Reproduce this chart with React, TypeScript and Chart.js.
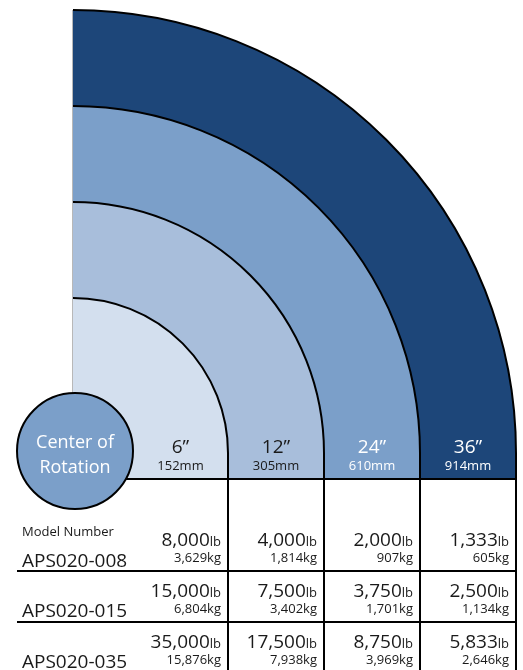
import React, { useEffect, useRef } from 'react';
import { Chart, registerables } from 'chart.js';

Chart.register(...registerables);

// ---- data ----
const reachInches = ['6”', '12”', '24”', '36”'];
const reachMm = ['152mm', '305mm', '610mm', '914mm'];
const modelNumbers = ['APS020-008', 'APS020-015', 'APS020-035'];
const capacityLb008 = [8000, 4000, 2000, 1333];
const capacityKg008 = [3629, 1814, 907, 605];
const capacityLb015 = [15000, 7500, 3750, 2500];
const capacityKg015 = [6804, 3402, 1701, 1134];
const capacityLb035 = [35000, 17500, 8750, 5833];
const capacityKg035 = [15876, 7938, 3969, 2646];

const lbRows = [capacityLb008, capacityLb015, capacityLb035];
const kgRows = [capacityKg008, capacityKg015, capacityKg035];

// ---- styling (not data) ----
const ringColors = ['#d3dfee', '#a8bedb', '#7b9fc9', '#1d4679'];
const ringWeights = [155, 96, 96, 96];
const headerInk = ['#1a1a1a', '#1a1a1a', '#ffffff', '#ffffff'];
const FONT = '"Open Sans", "Noto Sans", sans-serif';

const fmt = (v: number) => v.toLocaleString('en-US');

const loadPlugin = {
  id: 'loadChart',
  afterDatasetsDraw(chart: any) {
    const ctx: CanvasRenderingContext2D = chart.ctx;
    const nd = chart.data.datasets.length;
    // arcs ordered inner (6") -> outer (36")
    const arcs: any[] = [];
    for (let i = nd - 1; i >= 0; i--) arcs.push(chart.getDatasetMeta(i).data[0]);
    const cx = arcs[0].x;
    const cy = arcs[0].y;
    const outerR = arcs[arcs.length - 1].outerRadius;
    const tableTop = cy + 26;
    const bottom = chart.height;
    const rowLines = [tableTop + 92, tableTop + 143];
    const tableLeft = 17;

    ctx.save();
    // rectangular extensions below the centre line
    arcs.forEach((a, i) => {
      ctx.fillStyle = ringColors[i];
      ctx.fillRect(cx + a.innerRadius, cy - 1, a.outerRadius - a.innerRadius, tableTop - cy + 1);
    });

    // faint left edge
    ctx.strokeStyle = '#b8b8b8';
    ctx.lineWidth = 1;
    ctx.beginPath();
    ctx.moveTo(cx - 0.5, cy - outerR);
    ctx.lineTo(cx - 0.5, tableTop);
    ctx.stroke();

    // arc outlines + column lines
    ctx.strokeStyle = '#000';
    ctx.lineWidth = 2;
    arcs.forEach((a) => {
      ctx.beginPath();
      ctx.arc(cx, cy, a.outerRadius, -Math.PI / 2, 0);
      ctx.lineTo(cx + a.outerRadius, bottom);
      ctx.stroke();
    });

    // table horizontal lines
    ctx.beginPath();
    ctx.moveTo(cx, tableTop);
    ctx.lineTo(cx + outerR + 1, tableTop);
    rowLines.forEach((y) => {
      ctx.moveTo(tableLeft, y);
      ctx.lineTo(cx + outerR + 1, y);
    });
    ctx.stroke();

    // Center of rotation circle
    const ccx = cx + 2;
    const ccy = cy - 2;
    const cr = 58;
    ctx.beginPath();
    ctx.arc(ccx, ccy, cr, 0, Math.PI * 2);
    ctx.fillStyle = '#7b9fc9';
    ctx.fill();
    ctx.lineWidth = 2;
    ctx.strokeStyle = '#000';
    ctx.stroke();
    ctx.fillStyle = '#ffffff';
    ctx.textAlign = 'center';
    ctx.textBaseline = 'alphabetic';
    ctx.font = `18px ${FONT}`;
    ctx.fillText('Center of', ccx, cy - 5);
    ctx.fillText('Rotation', ccx, cy + 20);

    // column headers
    arcs.forEach((a, i) => {
      const left = i === 0 ? ccx + cr : cx + a.innerRadius;
      const mid = (left + cx + a.outerRadius) / 2;
      ctx.fillStyle = headerInk[i];
      ctx.font = `19px ${FONT}`;
      ctx.fillText(reachInches[i], mid, cy);
      ctx.font = `13px ${FONT}`;
      ctx.fillText(reachMm[i], mid, cy + 17);
    });

    // table
    ctx.fillStyle = '#1a1a1a';
    ctx.textAlign = 'left';
    ctx.font = `13px ${FONT}`;
    ctx.fillText('Model Number', 22, tableTop + 57);
    const rowTops = [tableTop, rowLines[0], rowLines[1]];
    modelNumbers.forEach((m, r) => {
      const top = rowTops[r];
      const nameBase = r === 0 ? top + 88 : top + 46;
      const lbBase = r === 0 ? top + 67 : top + 26;
      ctx.textAlign = 'left';
      ctx.font = `19px ${FONT}`;
      ctx.fillText(m, 22, nameBase);
      arcs.forEach((a, c) => {
        const xr = cx + a.outerRadius - 7;
        ctx.font = `13px ${FONT}`;
        const lbW = ctx.measureText('lb').width;
        ctx.textAlign = 'right';
        ctx.fillText('lb', xr, lbBase);
        ctx.font = `19px ${FONT}`;
        ctx.fillText(fmt(lbRows[r][c]), xr - lbW, lbBase);
        ctx.font = `13px ${FONT}`;
        ctx.fillText(fmt(kgRows[r][c]) + 'kg', xr, lbBase + 16);
      });
    });
    ctx.restore();
  },
};

export default function App() {
  const ref = useRef<HTMLCanvasElement | null>(null);
  useEffect(() => {
    if (!ref.current) return;
    // datasets: outermost ring first
    const datasets = reachInches
      .map((label, i) => ({
        label,
        data: [1],
        backgroundColor: ringColors[i],
        borderWidth: 0,
        weight: ringWeights[i],
      }))
      .reverse();
    const chart = new Chart(ref.current, {
      type: 'doughnut',
      data: { labels: ['reach'], datasets },
      options: {
        responsive: false,
        animation: false,
        circumference: 90,
        rotation: 0,
        cutout: 0,
        layout: { padding: { left: 73, top: 10, right: 7, bottom: 217 } },
        plugins: { legend: { display: false }, tooltip: { enabled: false } },
      },
      plugins: [loadPlugin],
    } as any);
    return () => chart.destroy();
  }, []);
  return (
    <div style={{ position: 'absolute', left: 0, top: 0, width: 523, height: 670, background: '#fff' }}>
      <canvas ref={ref} width={523} height={670} style={{ display: 'block', width: 523, height: 670 }} />
    </div>
  );
}
